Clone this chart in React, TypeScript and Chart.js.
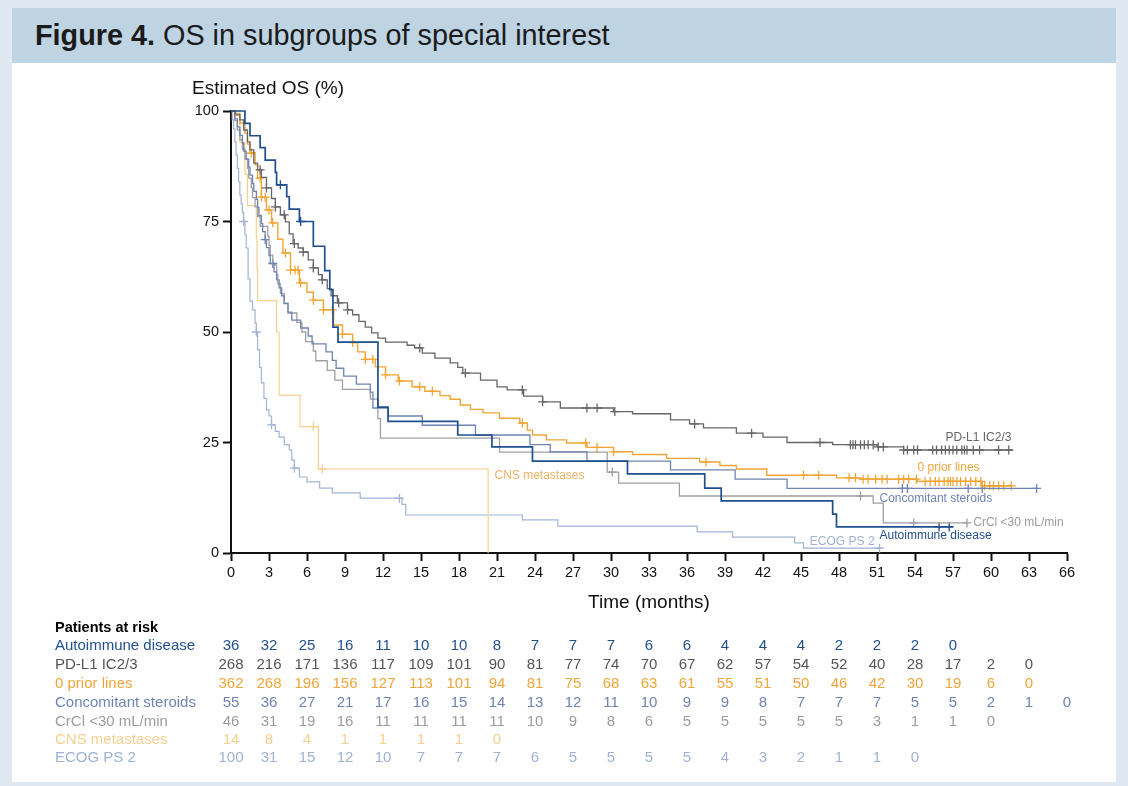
import React, { useEffect, useRef } from 'react';
import { Chart, registerables } from 'chart.js';

Chart.register(...registerables);

const FONT = '"Liberation Sans", Arial, Helvetica, sans-serif';

// ---------- axes ----------
const xTickMonths = [0, 3, 6, 9, 12, 15, 18, 21, 24, 27, 30, 33, 36, 39, 42, 45, 48, 51, 54, 57, 60, 63, 66];
const yTickValues = [0, 25, 50, 75, 100];

// ---------- Kaplan-Meier curves (time in months, survival %) ----------
const autoT = [0, 1.1, 1.5, 2.3, 2.7, 3.5, 3.6, 4.4, 4.6, 5.4, 6.5, 7.4, 7.8, 8.05, 8.45, 11.6, 12.4, 17.9, 20.6, 23.8, 31.3, 37.4, 38.7, 47.5, 47.8, 57.0];
const autoS = [100, 97.2, 94.4, 91.7, 88.9, 86.1, 83.3, 80.6, 77.8, 75.0, 69.4, 63.9, 59.6, 51.1, 47.7, 33.0, 29.8, 26.7, 24.0, 20.8, 17.9, 14.7, 11.8, 8.8, 5.9, 5.9];
const autoCensor = [3.9, 5.5, 55.9, 56.7];

const pdT = [0, 0.3, 0.7, 1.0, 1.3, 1.5, 1.8, 2.1, 2.4, 2.8, 3.2, 3.5, 3.9, 4.3, 4.6, 4.9, 5.3, 5.7, 6.1, 6.5, 6.9, 7.2, 7.6, 7.9, 8.4, 9.2, 9.6, 10.1, 10.6, 11.1, 11.6, 12.2, 13.9, 14.5, 15.1, 16.1, 17.3, 17.9, 18.3, 19.7, 21.0, 21.8, 23.1, 24.6, 26.0, 30.2, 31.7, 34.7, 36.2, 37.3, 39.9, 42.0, 43.9, 47.5, 51.0, 53.1, 61.7];
const pdS = [100, 99.3, 98, 95.7, 93, 91.2, 88.2, 86.7, 85.0, 82.6, 80.2, 78.3, 76.5, 74.9, 72.2, 70.0, 69.0, 68.1, 66.3, 64.5, 63.0, 61.8, 59.8, 58.2, 56.6, 55.0, 53.9, 52.4, 51.1, 49.8, 48.6, 47.7, 47.0, 46.4, 45.2, 44.1, 43.0, 42.0, 40.7, 39.1, 37.6, 36.9, 35.5, 34.2, 32.8, 32.0, 31.5, 30.1, 29.2, 28.3, 27.1, 26.2, 25.0, 24.5, 24.0, 23.3, 23.3];
const pdCensor = [2.3, 2.8, 3.5, 4.2, 5.0, 5.7, 6.5, 7.2, 8.5, 9.2, 14.9, 18.5, 23.0, 24.6, 28.1, 28.9, 30.3, 36.6, 41.1, 46.5, 48.9, 49.1, 49.3, 49.7, 50.0, 50.3, 50.7, 51.1, 51.5, 53.1, 53.4, 53.9, 54.2, 55.4, 55.7, 56.1, 56.4, 56.7, 57.0, 57.3, 57.7, 57.9, 58.1, 58.6, 59.1, 60.6, 61.4];

const priorT = [0, 0.4, 0.7, 1.1, 1.3, 1.5, 1.9, 2.1, 2.4, 2.8, 3.2, 3.7, 4.1, 4.7, 5.4, 6.0, 6.5, 7.3, 8.1, 8.8, 9.6, 10.0, 10.6, 11.4, 12.2, 13.2, 14.3, 15.3, 16.5, 17.3, 18.1, 18.9, 19.9, 21.2, 22.8, 23.4, 23.8, 24.9, 26.5, 28.1, 30.2, 31.7, 34.4, 37.0, 38.6, 39.9, 42.3, 47.8, 49.7, 54.2, 59.3, 61.7];
const priorS = [100, 99, 97.3, 95, 92.5, 90.5, 87.8, 84.8, 80.5, 77.6, 74.7, 71, 67.9, 64, 61.1, 59, 57.2, 55.0, 51.6, 49.5, 47.6, 45.5, 43.8, 42.1, 40.3, 38.9, 37.6, 36.6, 35.6, 34.8, 33.5, 32.5, 31.7, 30.5, 29.4, 27.8, 26.7, 25.6, 24.9, 23.9, 22.9, 22.3, 21.4, 20.6, 19.8, 19.0, 17.6, 17.0, 16.7, 16.2, 15.2, 15.2];
const priorCensor = [1.6, 2.3, 2.4, 2.7, 3.0, 3.3, 4.3, 4.7, 5.05, 5.3, 5.5, 6.5, 7.3, 8.0, 8.8, 9.6, 10.6, 11.2, 12.2, 13.3, 14.9, 15.9, 23.0, 28.0, 28.9, 30.2, 37.5, 45.2, 46.4, 48.8, 49.3, 49.9, 50.3, 50.9, 51.4, 51.8, 52.7, 53.1, 53.5, 54.1, 54.8, 55.2, 55.6, 55.9, 56.3, 56.6, 56.8, 57.0, 57.3, 57.6, 58.0, 58.4, 58.8, 59.2, 59.5, 59.9, 60.2, 60.6, 61.0, 61.6];

const sterT = [0, 0.3, 0.5, 0.7, 0.9, 1.0, 1.2, 1.4, 1.5, 1.7, 1.8, 2.0, 2.1, 2.2, 2.4, 2.5, 2.7, 2.8, 3.0, 3.1, 3.4, 3.6, 3.8, 4.0, 4.2, 4.5, 4.8, 5.5, 6.1, 6.4, 7.5, 8.0, 8.3, 8.9, 9.9, 11.0, 11.2, 12.4, 15.1, 19.3, 23.6, 25.2, 28.1, 34.7, 39.8, 43.9, 63.7];
const sterS = [100, 98.2, 96.4, 94.5, 92.7, 90.9, 89.1, 87.3, 85.5, 83.6, 81.8, 80.0, 78.2, 76.4, 74.5, 72.7, 70.9, 69.1, 67.3, 65.5, 63.6, 61.8, 60.0, 58.2, 56.4, 54.5, 52.7, 50.9, 49.1, 47.3, 45.5, 43.6, 41.8, 40.0, 38.2, 36.4, 32.8, 31.0, 28.9, 26.7, 24.5, 22.9, 20.8, 18.8, 16.7, 14.6, 14.6];
const sterCensor = [2.7, 3.3, 53.0, 53.4, 58.2, 59.3, 63.6];

const crT = [0, 0.3, 0.5, 0.7, 0.9, 1.1, 1.3, 1.4, 1.6, 1.7, 1.9, 2.1, 2.3, 2.9, 3.0, 3.1, 3.3, 3.6, 3.7, 3.9, 4.2, 4.5, 5.2, 5.6, 5.9, 6.5, 6.7, 7.6, 8.2, 8.8, 11.0, 11.6, 11.8, 21.2, 29.7, 30.6, 35.4, 50.7, 51.5, 58.2];
const crS = [100, 97.8, 95.7, 93.5, 91.3, 89.1, 87.0, 84.8, 82.6, 80.4, 78.3, 76.1, 73.9, 71.7, 69.6, 67.4, 65.2, 63.0, 60.9, 58.7, 56.5, 54.3, 52.2, 50.0, 47.8, 45.7, 43.5, 41.3, 39.1, 37.0, 34.8, 30.4, 26.0, 22.8, 18.3, 15.8, 12.9, 11.3, 6.8, 6.8];
const crCensor = [30.1, 49.7, 53.9, 58.1];

const cnsT = [0, 0.7, 1.1, 1.3, 2.0, 2.05, 2.1, 3.6, 3.8, 5.45, 6.9, 20.3];
const cnsS = [100, 92.9, 85.7, 78.6, 71.4, 64.3, 57.1, 50.0, 35.7, 28.6, 19.0, 0];
const cnsCensor = [6.5, 7.2];

const ecogT = [0, 0.1, 0.2, 0.3, 0.4, 0.5, 0.6, 0.7, 0.8, 0.9, 1.0, 1.1, 1.2, 1.35, 1.5, 1.7, 1.9, 2.0, 2.1, 2.25, 2.4, 2.6, 2.8, 3.0, 3.2, 3.5, 3.8, 4.2, 4.6, 4.8, 5.0, 5.4, 6.0, 7.0, 8.0, 10.2, 13.5, 13.8, 23.0, 25.8, 36.8, 39.6, 44.5, 45.2, 51.4];
const ecogS = [100, 98, 96, 93, 90, 87, 84, 81, 79, 77, 75, 72, 69, 62, 57, 55, 52, 50, 46, 42, 38.5, 35, 32.4, 31, 29, 27.5, 26.2, 24.5, 23.3, 21, 19.2, 17.2, 16.1, 14.7, 13.6, 12.4, 11.0, 8.6, 7.5, 6.1, 4.8, 3.6, 2.3, 1.1, 1.1];
const ecogCensor = [1.0, 2.0, 3.2, 5.0, 13.3, 51.2];

// ---------- patients at risk (every 3 months) ----------
const riskAutoimmune = [36, 32, 25, 16, 11, 10, 10, 8, 7, 7, 7, 6, 6, 4, 4, 4, 2, 2, 2, 0];
const riskPDL1 = [268, 216, 171, 136, 117, 109, 101, 90, 81, 77, 74, 70, 67, 62, 57, 54, 52, 40, 28, 17, 2, 0];
const riskPrior = [362, 268, 196, 156, 127, 113, 101, 94, 81, 75, 68, 63, 61, 55, 51, 50, 46, 42, 30, 19, 6, 0];
const riskSteroids = [55, 36, 27, 21, 17, 16, 15, 14, 13, 12, 11, 10, 9, 9, 8, 7, 7, 7, 5, 5, 2, 1, 0];
const riskCrCl = [46, 31, 19, 16, 11, 11, 11, 11, 10, 9, 8, 6, 5, 5, 5, 5, 5, 3, 1, 1, 0];
const riskCNS = [14, 8, 4, 1, 1, 1, 1, 0];
const riskECOG = [100, 31, 15, 12, 10, 7, 7, 7, 6, 5, 5, 5, 5, 4, 3, 2, 1, 1, 0];

type Curve = {
  name: string;
  tableName: string;
  color: string;
  textColor: string;
  width: number;
  t: number[];
  s: number[];
  censor: number[];
  risk: number[];
  labelAt: [number, number];
};

const curves: Curve[] = [
  { name: 'Autoimmune disease', tableName: 'Autoimmune disease', color: '#1f4f8f', textColor: '#21508e', width: 1.7, t: autoT, s: autoS, censor: autoCensor, risk: riskAutoimmune, labelAt: [51.2, 3.85] },
  { name: 'PD-L1 IC2/3', tableName: 'PD-L1 IC2/3', color: '#666666', textColor: '#666666', width: 1.3, t: pdT, s: pdS, censor: pdCensor, risk: riskPDL1, labelAt: [56.4, 26.2] },
  { name: '0 prior lines', tableName: '0 prior lines', color: '#f0a535', textColor: '#f0a53a', width: 1.4, t: priorT, s: priorS, censor: priorCensor, risk: riskPrior, labelAt: [54.2, 19.2] },
  { name: 'Concomitant steroids', tableName: 'Concomitant steroids', color: '#6f84b2', textColor: '#6f84b2', width: 1.3, t: sterT, s: sterS, censor: sterCensor, risk: riskSteroids, labelAt: [51.2, 12.4] },
  { name: 'CrCl <30 mL/min', tableName: 'CrCl <30 mL/min', color: '#a0a0a0', textColor: '#9c9c9c', width: 1.3, t: crT, s: crS, censor: crCensor, risk: riskCrCl, labelAt: [58.6, 6.8] },
  { name: 'CNS metastases', tableName: 'CNS metastases', color: '#f6d08f', textColor: '#efb062', width: 1.2, t: cnsT, s: cnsS, censor: cnsCensor, risk: riskCNS, labelAt: [20.8, 17.6] },
  { name: 'ECOG PS 2', tableName: 'ECOG PS 2', color: '#a2b3d5', textColor: '#9fb1d3', width: 1.2, t: ecogT, s: ecogS, censor: ecogCensor, risk: riskECOG, labelAt: [45.7, 2.5] },
];

const riskRowColors = ['#21508e', '#555555', '#f0a53a', '#6f84b2', '#9c9c9c', '#f5cf90', '#9fb2d4'];

function stepValue(ts: number[], ss: number[], t: number) {
  let v = ss[0];
  for (let i = 0; i < ts.length; i++) {
    if (ts[i] <= t) v = ss[i];
    else break;
  }
  return v;
}

const textPlugin = {
  id: 'kmTexts',
  afterDraw(chart: any) {
    const ctx = chart.ctx as CanvasRenderingContext2D;
    const xs = chart.scales.x;
    const ys = chart.scales.y;
    ctx.save();
    ctx.textBaseline = 'middle';
    // axis titles
    ctx.fillStyle = '#111';
    ctx.font = `19px ${FONT}`;
    ctx.textAlign = 'left';
    ctx.fillText('Estimated OS (%)', 192, 89);
    ctx.textAlign = 'center';
    ctx.fillText('Time (months)', (xs.left + xs.right) / 2, 603);

    // curve labels
    ctx.font = `12px ${FONT}`;
    ctx.textAlign = 'left';
    curves.forEach((c) => {
      ctx.fillStyle = c.textColor;
      ctx.fillText(c.name, xs.getPixelForValue(c.labelAt[0]), ys.getPixelForValue(c.labelAt[1]));
    });

    // patients at risk table
    ctx.fillStyle = '#000';
    ctx.font = `bold 14.5px ${FONT}`;
    ctx.fillText('Patients at risk', 55, 628);
    const rowY = [646, 665, 684, 703, 722, 740, 758];
    ctx.font = `15px ${FONT}`;
    curves.forEach((c, r) => {
      ctx.fillStyle = riskRowColors[r];
      ctx.textAlign = 'left';
      ctx.fillText(c.tableName, 55, rowY[r]);
      ctx.textAlign = 'center';
      c.risk.forEach((n, i) => {
        ctx.fillText(String(n), xs.getPixelForValue(xTickMonths[i]), rowY[r]);
      });
    });
    ctx.restore();
  },
};

export default function App() {
  const ref = useRef<HTMLCanvasElement | null>(null);

  useEffect(() => {
    if (!ref.current) return;
    Chart.defaults.font.family = FONT;
    const datasets: any[] = [];
    curves.forEach((c) => {
      datasets.push({
        label: c.name,
        data: c.t.map((t, i) => ({ x: t, y: c.s[i] })),
        borderColor: c.color,
        borderWidth: c.width,
        stepped: 'before',
        pointRadius: 0,
        fill: false,
        clip: false,
      });
    });
    curves.forEach((c) => {
      datasets.push({
        label: c.name + ' censored',
        data: c.censor.map((t) => ({ x: t, y: stepValue(c.t, c.s, t) })),
        showLine: false,
        pointStyle: 'cross',
        pointRadius: 4.5,
        pointBorderWidth: 1.3,
        pointBorderColor: c.color,
        borderColor: c.color,
        backgroundColor: c.color,
        clip: false,
      });
    });

    const chart = new Chart(ref.current, {
      type: 'line',
      data: { datasets },
      options: {
        animation: false,
        responsive: false,
        maintainAspectRatio: false,
        devicePixelRatio: 1,
        layout: { padding: { left: 181, right: 61, top: 111, bottom: 193 } },
        plugins: { legend: { display: false }, tooltip: { enabled: false } },
        scales: {
          x: {
            type: 'linear',
            min: 0,
            max: 66,
            afterBuildTicks: (s: any) => {
              s.ticks = xTickMonths.map((v) => ({ value: v }));
            },
            afterFit: (s: any) => {
              s.height = 40;
            },
            ticks: { color: '#111', font: { size: 14.5, family: FONT }, padding: 3, maxRotation: 0, autoSkip: false },
            grid: { display: true, drawOnChartArea: false, drawTicks: true, tickLength: 8, tickWidth: 2, tickColor: '#111' },
            border: { display: true, color: '#111', width: 2 },
          },
          y: {
            type: 'linear',
            min: 0,
            max: 100,
            afterBuildTicks: (s: any) => {
              s.ticks = yTickValues.map((v) => ({ value: v }));
            },
            afterFit: (s: any) => {
              s.width = 50;
            },
            ticks: { color: '#111', font: { size: 14.5, family: FONT }, padding: 4 },
            grid: { display: true, drawOnChartArea: false, drawTicks: true, tickLength: 8, tickWidth: 2, tickColor: '#111' },
            border: { display: true, color: '#111', width: 2 },
          },
        },
      },
      plugins: [textPlugin],
    });
    return () => chart.destroy();
  }, []);

  return (
    <div style={{ position: 'absolute', left: 0, top: 0, width: 1128, height: 786, background: '#dfe8f1', overflow: 'hidden' }}>
      <div style={{ position: 'absolute', left: 12, top: 8, width: 1104, height: 55, background: '#bed4e3' }}>
        <div style={{ position: 'absolute', left: 23, top: 0, lineHeight: '55px', fontSize: 28.8, fontFamily: FONT, color: '#1b1b1b', whiteSpace: 'nowrap' }}>
          <b>Figure 4.</b> OS in subgroups of special interest
        </div>
      </div>
      <div style={{ position: 'absolute', left: 12, top: 63, width: 1104, height: 719, background: '#ffffff' }} />
      <canvas ref={ref} width={1128} height={786} style={{ position: 'absolute', left: 0, top: 0, width: 1128, height: 786 }} />
    </div>
  );
}
